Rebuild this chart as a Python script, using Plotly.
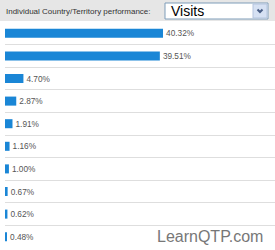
import plotly.graph_objects as go

categories = ["c1", "c2", "c3", "c4", "c5", "c6", "c7", "c8", "c9", "c10"]
values = [40.32, 39.51, 4.70, 2.87, 1.91, 1.16, 1.00, 0.67, 0.62, 0.48]
labels = ["40.32%", "39.51%", "4.70%", "2.87%", "1.91%", "1.16%", "1.00%", "0.67%", "0.62%", "0.48%"]
header_text = "Individual Country/Territory performance:"
dropdown_text = "Visits"
watermark = "LearnQTP.com"

W, H = 275, 250
L, R, T, B = 5, 0, 22, 2
PW, PH = W - L - R, H - T - B


def px2x(px):
    return (px - L) / PW


def px2y(py):
    return (H - B - py) / PH


idx = list(range(len(categories)))

fig = go.Figure(go.Bar(
    x=values, y=idx, orientation="h",
    marker=dict(color="#1a86d6", line=dict(width=0)),
    width=0.4,
    text=labels, textposition="outside",
    textfont=dict(family="Liberation Sans, Arial", size=11, color="#555555"),
    cliponaxis=False,
    hoverinfo="skip",
))

shapes = [
    dict(type="rect", xref="paper", yref="paper", x0=px2x(0), x1=px2x(W), y0=px2y(21), y1=px2y(0),
         fillcolor="#e6e6e6", line=dict(width=0), layer="below"),
    dict(type="rect", xref="paper", yref="paper", x0=px2x(165), x1=px2x(268), y0=px2y(19), y1=px2y(3),
         fillcolor="#ffffff", line=dict(color="#7f9db9", width=1)),
    dict(type="rect", xref="paper", yref="paper", x0=px2x(253), x1=px2x(267), y0=px2y(18), y1=px2y(4),
         fillcolor="#d6e1f3", line=dict(color="#b4c4de", width=1)),
    dict(type="path", xref="paper", yref="paper",
         path=f"M {px2x(257.5)} {px2y(9.5)} L {px2x(260)} {px2y(12)} L {px2x(262.5)} {px2y(9.5)}",
         line=dict(color="#4a5f86", width=2)),
]

fig.update_layout(
    width=W, height=H,
    margin=dict(l=L, r=R, t=T, b=B),
    paper_bgcolor="white", plot_bgcolor="white",
    showlegend=False,
    bargap=0.6,
    xaxis=dict(range=[0, PW / 3.919], visible=False, fixedrange=True),
    yaxis=dict(range=[len(categories) - 0.5, -0.5], tickvals=[i + 0.5 for i in idx],
               showticklabels=False, showgrid=True, gridcolor="#dedede", gridwidth=1,
               zeroline=False, ticks="", fixedrange=True),
    shapes=shapes,
    annotations=[
        dict(text=header_text, xref="paper", yref="paper", x=px2x(4), y=px2y(11),
             xanchor="left", yanchor="middle", showarrow=False,
             font=dict(family="Liberation Sans, Arial", size=8, color="#333333")),
        dict(text=dropdown_text, xref="paper", yref="paper", x=px2x(169), y=px2y(11),
             xanchor="left", yanchor="middle", showarrow=False,
             font=dict(family="Liberation Sans, Arial", size=14, color="#000000")),
        dict(text=watermark, xref="paper", yref="paper", x=px2x(265), y=px2y(236),
             xanchor="right", yanchor="middle", showarrow=False,
             font=dict(family="Liberation Sans, Arial", size=16, color="#777777")),
    ],
)

fig.write_html("out.html", config={"displayModeBar": False})
